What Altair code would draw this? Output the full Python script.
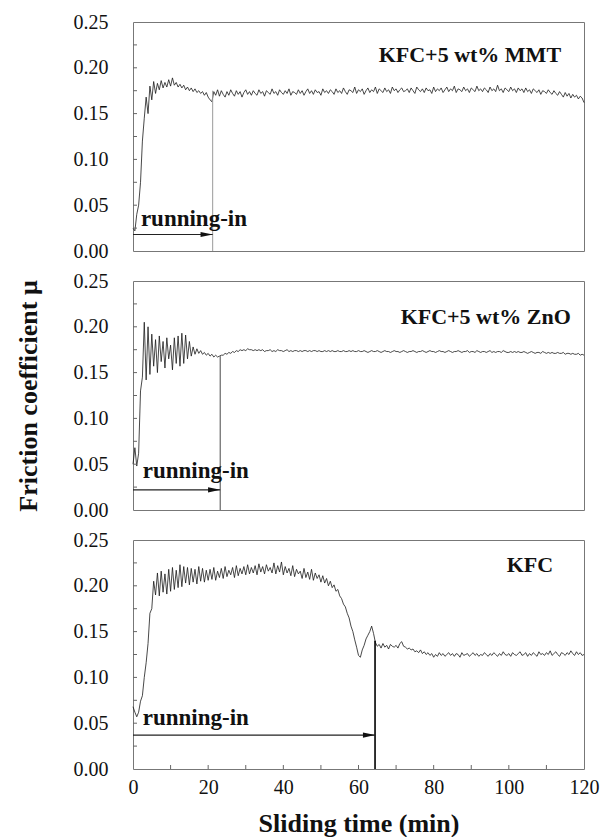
import altair as alt
import pandas as pd

# ---------------- data (friction coefficient x 1000, sampled every 0.5 min) ----------------
STEP_MIN = 0.5

MMT = [
    25, 22, 40, 50, 75, 120, 145, 168, 150, 180,
    165, 185, 172, 183, 176, 186, 178, 184, 179, 187,
    180, 189, 181, 184, 179, 182, 178, 181, 176, 179,
    175, 178, 174, 177, 173, 175, 172, 174, 170, 173,
    168, 165, 163, 174, 170, 176,
    169, 175, 171, 168, 174, 170, 176, 172, 169, 175, 171, 174, 168, 173, 176, 171, 174, 170, 175, 172,
    170, 176, 172, 174, 169, 175, 173, 171, 177, 172, 174, 170, 176, 173, 171, 175, 172, 177, 170, 174,
    173, 171, 176, 172, 175, 170, 174, 177, 172, 175, 171, 176, 173, 174, 170, 177, 173, 175, 172, 176,
    174, 171, 177, 173, 175, 172, 178, 174, 171, 176, 175, 173, 179, 172, 176, 174, 177, 171, 175, 178,
    173, 176, 174, 179, 172, 177, 175, 173, 178, 174, 176, 172, 179, 175, 177, 173, 176, 178, 174, 175,
    177, 173, 178, 175, 172, 179, 176, 174, 177, 173, 178, 175, 176, 172, 179, 174, 177, 175, 178, 173,
    176, 179, 174, 177, 175, 180, 173, 177, 176, 174, 179, 175, 177, 173, 178, 176, 174, 180, 175, 177,
    174, 178, 176, 173, 179, 175, 177, 174, 181, 175, 177, 173, 178, 176, 174, 179, 175, 177, 173, 178,
    175, 177, 173, 178, 174, 176, 172, 177, 175, 173, 176, 171, 175, 174, 172, 176, 173, 171, 175, 172,
    170, 174, 171, 168, 173, 169, 172, 167, 171, 168, 170, 166, 169, 167, 162,
]

ZNO = [
    50, 68, 48, 62, 130, 145, 205, 142, 200, 148,
    192, 157, 186, 150, 190, 162, 184, 155, 188, 165,
    180, 153, 188, 160, 190, 157, 193, 160, 191, 165,
    184, 168, 178, 170, 176, 171, 174, 170, 172, 169,
    171, 168, 170, 167, 169, 167, 168, 169,
    169, 171, 170, 172, 171, 173, 172, 174, 173, 175, 174, 175, 174, 176, 175, 175, 174, 175, 174, 175,
    174, 175, 173, 174, 174, 175, 173, 174, 173, 175, 174, 174, 173, 174, 175, 173, 174, 173, 174, 174,
    173, 174, 173, 174, 174, 173, 174, 173, 174, 174, 173, 174, 173, 173, 174, 173, 174, 173, 174, 173,
    173, 174, 173, 173, 174, 173, 173, 174, 173, 174, 173, 173, 174, 173, 173, 174, 173, 172, 173, 174,
    173, 173, 174, 173, 172, 173, 174, 173, 173, 172, 173, 174, 173, 173, 172, 173, 174, 173, 172, 173,
    173, 174, 173, 172, 173, 173, 174, 173, 172, 173, 174, 173, 173, 172, 173, 174, 173, 173, 172, 173,
    174, 173, 172, 173, 173, 174, 173, 172, 173, 173, 174, 172, 173, 173, 172, 174, 173, 172, 173, 173,
    172, 173, 174, 172, 173, 172, 173, 173, 172, 174, 173, 172, 172, 173, 172, 173, 172, 173, 172, 172,
    173, 172, 171, 172, 173, 172, 171, 172, 172, 171, 173, 172, 171, 172, 171, 172, 171, 171, 172, 171,
    171, 172, 170, 171, 171, 170, 171, 170, 170, 171, 169, 170, 169,
]

KFC = [
    68, 62, 57, 62, 74, 80, 100, 116, 137, 170,
    175, 205, 190, 214, 189, 216, 193, 213, 191, 218,
    194, 220, 196, 217, 198, 223, 199, 221, 203, 220,
    201, 219, 204, 218, 202, 221, 205, 219, 204, 217,
    206,
    218, 207, 220, 206, 216, 209, 219, 208, 221, 210, 217, 212, 220, 209, 222, 211, 219, 213, 221, 212,
    223, 213, 220, 214, 222, 212, 224, 215, 221, 213, 223, 216, 220, 214, 225, 213, 222, 215, 226, 212,
    221, 214, 219, 211, 222, 210, 218, 213, 216, 208, 219, 209, 215, 207, 218, 206, 214, 208, 212, 204,
    211, 203, 208, 200, 205, 198, 201, 194, 196, 189,
    186, 180, 177, 170, 165, 156, 150, 141, 133, 124,
    122, 130, 135, 142, 146, 150, 156, 148, 138, 134,
    136, 132, 137, 133, 135, 131, 136, 134, 133, 135, 132, 137, 139, 134, 133, 131, 132, 130, 131, 128,
    129, 127, 130, 126, 128, 125, 127, 124, 126, 122, 125, 123, 127, 124, 126, 123, 125, 127, 124, 126,
    123, 126, 125, 122, 127, 124, 125, 126, 123, 125, 127, 124, 126, 123, 125, 124, 127, 125, 123, 126,
    124, 127, 125, 123, 126, 124, 128, 125, 124, 126, 123, 127, 125, 124, 126, 128, 124, 125, 127, 123,
    126, 124, 127, 125, 123, 128, 125, 126, 124, 127, 125, 129, 124, 126, 128, 125, 123, 127, 126, 124,
    127, 125, 129, 126, 124, 128, 125, 127, 124, 125,
]

SAMPLES = ["KFC+5 wt% MMT", "KFC+5 wt% ZnO", "KFC"]
SERIES = [MMT, ZNO, KFC]

# running-in annotation anchors (data units)
RUN_END = [21.2, 23.2, 64.4]
RUN_TOP = [0.175, 0.168, 0.140]
ARROW_Y = [0.018, 0.022, 0.037]
RUN_TEXT_X = [2.1, 2.6, 2.6]
RUN_TEXT_Y = [0.027, 0.035, 0.048]
LABEL_X = [113.9, 116.5, 111.8]
LABEL_Y = [0.2065, 0.203, 0.215]

Y_LABELS = [0.0, 0.05, 0.10, 0.15, 0.20, 0.25]
Y_TICKS = [0.025, 0.05, 0.075, 0.10, 0.125, 0.15, 0.175, 0.20, 0.225]
X_LABELS = [0, 20, 40, 60, 80, 100, 120]
X_TICKS = [10, 20, 30, 40, 50, 60, 70, 80, 90, 100, 110]

# styles
RUN_LINE_COLOR = ["#9a9a9a", "#333333", "#000000"]
RUN_LINE_WIDTH = [1.0, 0.9, 1.6]
FONT = "Liberation Serif"
W, H = 451, 229
Y_TITLE = "Friction coefficient μ"
ARROW = "M-1,-0.42L1,0L-1,0.42Z"


def panel(i):
    bottom = i == 2
    xs = alt.Scale(domain=[0, 120], nice=False, zero=False)
    ys = alt.Scale(domain=[0, 0.25], nice=False, zero=False)
    if bottom:
        xaxis = alt.Axis(values=X_LABELS, title="Sliding time (min)", domain=False, ticks=False,
                         tickSize=0, grid=False, labelFlush=False, labelFont=FONT, labelFontSize=20,
                         labelColor="#111", labelPadding=8, titleFont=FONT, titleFontSize=26,
                         titleFontWeight="bold", titleColor="#111", titlePadding=13)
    else:
        xaxis = None
    yaxis = alt.Axis(values=Y_LABELS, format=".2f", title=Y_TITLE, domain=False, ticks=False,
                     tickSize=0, grid=False, labelFont=FONT, labelFontSize=20, labelColor="#111",
                     labelPadding=25, titleFont=FONT, titleFontSize=26, titleFontWeight="bold",
                     titleColor="#111", titleOpacity=1 if i == 1 else 0, titleX=-97,
                     titleBaseline="alphabetic")

    def X(f):
        return alt.X(f, type="quantitative", scale=xs, axis=xaxis)

    def Y(f):
        return alt.Y(f, type="quantitative", scale=ys, axis=yaxis)

    vals = SERIES[i]
    df = pd.DataFrame({"t": [k * STEP_MIN for k in range(len(vals))],
                       "mu": [v / 1000 for v in vals]})

    line = alt.Chart(df).mark_line(color="#1a1a1a", strokeWidth=0.8).encode(x=X("t"), y=Y("mu"))

    vdf = pd.DataFrame({"t": [RUN_END[i]], "mu": [0.0], "mu2": [RUN_TOP[i]]})
    vrule = alt.Chart(vdf).mark_rule(color=RUN_LINE_COLOR[i], strokeWidth=RUN_LINE_WIDTH[i]).encode(
        x=X("t"), y=Y("mu"), y2="mu2")

    hdf = pd.DataFrame({"t": [0.0], "t2": [RUN_END[i]], "mu": [ARROW_Y[i]]})
    hrule = alt.Chart(hdf).mark_rule(color="#222", strokeWidth=1.1).encode(
        x=X("t"), x2="t2", y=Y("mu"))

    adf = pd.DataFrame({"t": [RUN_END[i]], "mu": [ARROW_Y[i]]})
    head = alt.Chart(adf).mark_point(shape=ARROW, filled=True, size=150, opacity=1,
                                     color="#111", strokeWidth=0, xOffset=-6).encode(
        x=X("t"), y=Y("mu"))

    tdf = pd.DataFrame({"t": [RUN_TEXT_X[i]], "mu": [RUN_TEXT_Y[i]], "txt": ["running-in"]})
    rtext = alt.Chart(tdf).mark_text(font=FONT, fontSize=23, fontWeight="bold", align="left",
                                     baseline="alphabetic", color="#111").encode(
        x=X("t"), y=Y("mu"), text="txt:N")

    ldf = pd.DataFrame({"t": [LABEL_X[i]], "mu": [LABEL_Y[i]], "txt": [SAMPLES[i]]})
    ltext = alt.Chart(ldf).mark_text(font=FONT, fontSize=22, fontWeight="bold", align="right",
                                     baseline="alphabetic", color="#111").encode(
        x=X("t"), y=Y("mu"), text="txt:N")

    ydf = pd.DataFrame({"mu": Y_TICKS})
    yt = alt.Chart(ydf).mark_rule(color="#666", strokeWidth=1).encode(
        y=Y("mu"), x=alt.value(0), x2=alt.value(4))

    layers = [line, vrule, hrule, head, rtext, ltext, yt]
    if bottom:
        xdf = pd.DataFrame({"t": X_TICKS})
        xt = alt.Chart(xdf).mark_rule(color="#666", strokeWidth=1).encode(
            x=X("t"), y=alt.value(H), y2=alt.value(H - 4))
        layers.append(xt)
    return alt.layer(*layers).properties(width=W, height=H)


chart = alt.vconcat(panel(0), panel(1), panel(2), spacing=8).properties(
    padding={"left": 6, "top": 3, "right": 5, "bottom": 0},
    background="white",
).configure_view(stroke="#777", strokeWidth=1)

chart.save("out.html", embed_options={"renderer": "svg", "actions": False})
